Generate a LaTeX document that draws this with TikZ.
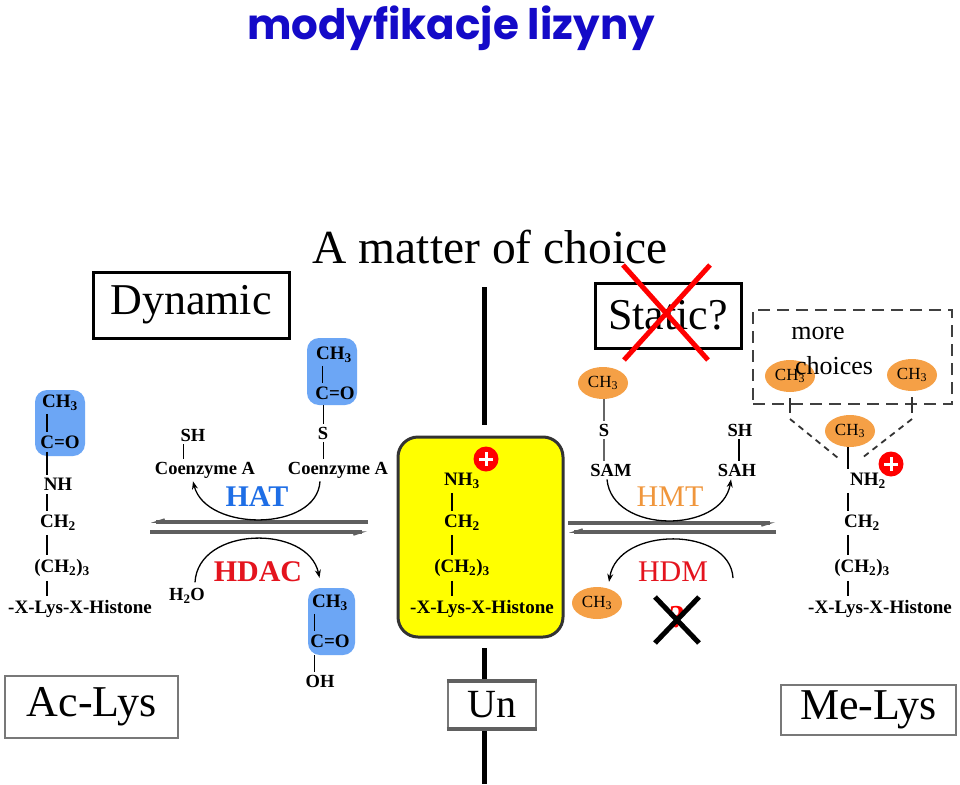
\documentclass[tikz,border=0pt]{standalone}
\usepackage{fontspec}
\setmainfont{Liberation Serif}
\newfontfamily\titlefont{Poppins}
\usetikzlibrary{arrows.meta,shapes.geometric,calc}
\definecolor{titleblue}{RGB}{20,10,200}
\definecolor{boxblue}{RGB}{108,166,245}
\definecolor{hatblue}{RGB}{30,110,230}
\definecolor{hdacred}{RGB}{228,20,30}
\definecolor{meorange}{RGB}{245,160,70}
\definecolor{hmtorange}{RGB}{240,150,60}
\definecolor{rxgray}{RGB}{95,95,95}
\definecolor{boxgray}{RGB}{120,120,120}
\definecolor{hiyellow}{RGB}{255,255,0}
\tikzset{
  lbl/.style={inner sep=0pt, font=\fontsize{19}{20}\selectfont\bfseries},
  sml/.style={inner sep=0pt, font=\fontsize{18.5}{20}\selectfont\bfseries},
  bigword/.style={inner sep=0pt, font=\fontsize{44}{46}\selectfont},
  enzb/.style={inner sep=0pt, font=\fontsize{30}{32}\selectfont\bfseries},
  enzr/.style={inner sep=0pt, font=\fontsize{30}{32}\selectfont},
  titlebox/.style={draw=black, line width=3pt, inner sep=0pt},
  graybox/.style={draw=boxgray, line width=1.5pt, inner sep=0pt, fill=white},
  bluebox/.style={fill=boxblue, rounded corners=12pt, inner sep=0pt},
  oval/.style={ellipse, fill=meorange, minimum width=50pt, minimum height=32pt, inner sep=0pt, font=\fontsize{17}{18}\selectfont},
  plus/.style={circle, fill=red, minimum size=25pt, inner sep=0pt},
  bond/.style={line width=2.6pt},
  thinbond/.style={line width=1pt},
  rxline/.style={draw=rxgray, line width=3.5pt},
  curvearrow/.style={line width=1.3pt, -{Stealth[length=8pt,width=6pt]}},
  axis/.style={line width=5pt},
  redx/.style={draw=red, line width=5pt},
  blackx/.style={draw=black, line width=5pt},
}
\begin{document}
\begin{tikzpicture}[x=1pt,y=-1pt]
\useasboundingbox (0,0) rectangle (960,784);
\fill[white] (0,0) rectangle (960,784);

% title
\node[inner sep=0pt, text=titleblue, font=\fontsize{42}{44}\selectfont\titlefont\bfseries] (title) at (451,28) {modyfikacje lizyny};
\node[inner sep=0pt, font=\fontsize{47.5}{49}\selectfont] (matter) at (490,247) {A matter of choice};

% axis lines
\coordinate (axtop1) at (484,287);
\coordinate (axtop2) at (484,425);
\draw[axis] (axtop1) -- (axtop2);

% category boxes
\node[titlebox, bigword, minimum width=196pt, minimum height=66pt] (dyn) at (191,305) {Dynamic};
\node[titlebox, bigword, minimum width=146pt, minimum height=65pt] (stat) at (668,315.5) {Static?};
\coordinate (sx1) at (623,265); \coordinate (sx2) at (708,360);
\coordinate (sx3) at (624,360); \coordinate (sx4) at (710,265);
\draw[redx] (sx1) -- (sx2);
\draw[redx] (sx3) -- (sx4);

% bottom boxes
\node[graybox, bigword, minimum width=173pt, minimum height=62pt] (aclys) at (91.5,707) {Ac-Lys};
\node[graybox, bigword, minimum width=175pt, minimum height=50pt] (melys) at (868.5,710) {Me-Lys};
\coordinate (axb1) at (484,648);
\coordinate (axb2) at (484,784);
\draw[axis] (axb1) -- (axb2);
\node[draw=boxgray, line width=2.5pt, fill=white, inner sep=0pt, minimum width=88pt, minimum height=46pt, font=\fontsize{40}{42}\selectfont] (un) at (492,705) {Un};
\draw[boxgray!80!black, line width=4pt] (un.north west) -- (un.north east);
\draw[boxgray!80!black, line width=4pt] (un.south west) -- (un.south east);

% ===== center yellow box =====
\node[draw=black!80, line width=3pt, fill=hiyellow, rounded corners=20pt, minimum width=165pt, minimum height=200pt] (ybox) at (480.5,537) {};
\coordinate (cbx) at (452,0);
\node[lbl] (cnh) at (462,481) {NH\textsubscript{3}};
\node[plus] (cplus) at (486,459) {};
\draw[white, line width=3pt] ([xshift=-7pt]cplus.center) -- ([xshift=7pt]cplus.center);
\draw[white, line width=3pt] ([yshift=-7pt]cplus.center) -- ([yshift=7pt]cplus.center);
\node[lbl] (cch2) at (462,523) {CH\textsubscript{2}};
\node[lbl] (cch23) at (462,568) {(CH\textsubscript{2})\textsubscript{3}};
\node[lbl] (chis) at (482,609) {-X-Lys-X-Histone};
\draw[bond] ([yshift=-4pt]cnh.south -| cbx) -- ([yshift=4pt]cch2.north -| cbx);
\draw[bond] ([yshift=-4pt]cch2.south -| cbx) -- ([yshift=4pt]cch23.north -| cbx);
\draw[bond] ([yshift=-4pt]cch23.south -| cbx) -- ([yshift=4pt]chis.north -| cbx);

% ===== left chain (Ac-Lys) =====
\node[bluebox, minimum width=50pt, minimum height=66pt] (lbox) at (60,423) {};
\coordinate (lbx) at (47,0);
\node[lbl] (lch3) at (60,403) {CH\textsubscript{3}};
\node[lbl] (lco) at (60,442) {C=O};
\node[lbl] (lnh) at (58,484) {NH};
\node[lbl] (lch2) at (58,523) {CH\textsubscript{2}};
\node[lbl] (lch23) at (62,568) {(CH\textsubscript{2})\textsubscript{3}};
\node[lbl] (lhis) at (80,609) {-X-Lys-X-Histone};
\draw[bond] ([yshift=-3pt]lch3.south -| lbx) -- ([yshift=3pt]lco.north -| lbx);
\draw[bond] ([yshift=-3pt]lco.south -| lbx) -- ([yshift=3pt]lnh.north -| lbx);
\draw[bond] ([yshift=-4pt]lnh.south -| lbx) -- ([yshift=4pt]lch2.north -| lbx);
\draw[bond] ([yshift=-4pt]lch2.south -| lbx) -- ([yshift=4pt]lch23.north -| lbx);
\draw[bond] ([yshift=-4pt]lch23.south -| lbx) -- ([yshift=4pt]lhis.north -| lbx);

% ===== right chain (Me-Lys) =====
\node[draw=black!75, dashed, dash pattern=on 12pt off 7pt, line width=2.5pt, minimum width=199pt, minimum height=94pt, inner sep=0pt] (more) at (852.5,357) {};
\node[oval] (mch3a) at (790,376) {CH\textsubscript{3}};
\node[oval] (mch3b) at (912,375) {CH\textsubscript{3}};
\node[inner sep=0pt, font=\fontsize{26}{28}\selectfont] (moretxt) at (818,333) {more};
\node[inner sep=0pt, font=\fontsize{26}{28}\selectfont] (choicetxt) at (834,366) {choices};
\node[oval] (mch3) at (850,431) {CH\textsubscript{3}};
\coordinate (rbx) at (848,0);
\node[lbl] (rnh) at (868,481) {NH\textsubscript{2}};
\node[plus] (rplus) at (891,464) {};
\draw[white, line width=3pt] ([xshift=-7pt]rplus.center) -- ([xshift=7pt]rplus.center);
\draw[white, line width=3pt] ([yshift=-7pt]rplus.center) -- ([yshift=7pt]rplus.center);
\node[lbl] (rch2) at (862,523) {CH\textsubscript{2}};
\node[lbl] (rch23) at (862,568) {(CH\textsubscript{2})\textsubscript{3}};
\node[lbl] (rhis) at (880,609) {-X-Lys-X-Histone};
\draw[bond] (mch3.south -| rbx) -- ([yshift=4pt]rnh.north -| rbx);
\draw[bond] ([yshift=-4pt]rnh.south -| rbx) -- ([yshift=4pt]rch2.north -| rbx);
\draw[bond] ([yshift=-4pt]rch2.south -| rbx) -- ([yshift=4pt]rch23.north -| rbx);
\draw[bond] ([yshift=-4pt]rch23.south -| rbx) -- ([yshift=4pt]rhis.north -| rbx);
\coordinate (tka) at (790,398); \coordinate (tkb) at (912,397);
\coordinate (dla) at (790,413); \coordinate (dlb) at (838,458);
\coordinate (dra) at (912,413); \coordinate (drb) at (862,458);
\draw[line width=1.5pt, black!80] (tka) -- (dla);
\draw[line width=1.5pt, black!80] (tkb) -- (dra);
\draw[line width=1.8pt, black!80, dash pattern=on 6pt off 5pt] ([yshift=-6pt]dla) -- (dlb);
\draw[line width=1.8pt, black!80, dash pattern=on 6pt off 5pt] ([yshift=-6pt]dra) -- (drb);

% ===== left reaction (acetylation) =====
\coordinate (ltA) at (368,522); \coordinate (ltB) at (151,522);
\coordinate (lbA) at (150,532); \coordinate (lbB) at (367,532);
\draw[rxline, -{Straight Barb[harpoon,swap,length=9pt,width=6pt,line width=1.5pt]}] (ltA) -- (ltB);
\draw[rxline, -{Straight Barb[harpoon,swap,length=9pt,width=6pt,line width=1.5pt]}] (lbA) -- (lbB);

\node[bluebox, minimum width=50pt, minimum height=67pt] (tbox) at (332,371.5) {};
\node[lbl] (tch3) at (334,355) {CH\textsubscript{3}};
\node[lbl] (tco) at (335,393) {C=O};
\draw[thinbond] ([yshift=-3pt]tch3.south -| 322,0) -- ([yshift=3pt]tco.north -| 322,0);
\node[sml] (ts) at (323,433) {S};
\node[sml] (tcoa) at (338,470) {Coenzyme A};
\draw[thinbond] (tbox.south -| ts.center) -- ([yshift=3pt]ts.north);
\draw[thinbond] ([yshift=-3pt]ts.south) -- ([yshift=3pt]tcoa.north -| ts.center);
\node[sml] (lsh) at (193,435) {SH};
\node[sml] (lcoa) at (205,470) {Coenzyme A};
\draw[thinbond] ([yshift=-3pt]lsh.south -| 183,0) -- ([yshift=3pt]lcoa.north -| 183,0);
\node[enzb, text=hatblue] (hat) at (257,497) {HAT};
\draw[curvearrow] ([xshift=-18pt,yshift=-3pt]tcoa.south) .. controls (317,532) and (206,532) .. ([xshift=-12pt,yshift=-3pt]lcoa.south);
\node[sml] (h2o) at (187,596) {H\textsubscript{2}O};
\node[enzb, text=hdacred] (hdac) at (258,572) {HDAC};
\node[bluebox, minimum width=47pt, minimum height=67pt] (bbox) at (331.5,621.5) {};
\node[lbl] (bch3) at (330,603) {CH\textsubscript{3}};
\node[lbl] (bco) at (330,641) {C=O};
\draw[thinbond] ([yshift=-3pt]bch3.south -| 314,0) -- ([yshift=3pt]bco.north -| 314,0);
\node[sml] (boh) at (320,681) {OH};
\draw[thinbond] (bbox.south -| 314,0) -- ([yshift=3pt]boh.north -| 314,0);
\draw[curvearrow] ([xshift=8pt,yshift=6pt]h2o.north) .. controls (198,526) and (308,524) .. ([xshift=-12pt,yshift=10pt]bbox.north);

% ===== right reaction (methylation) =====
\coordinate (rtA) at (568,523); \coordinate (rtB) at (775,523);
\coordinate (rbA) at (776,532); \coordinate (rbB) at (569,532);
\draw[rxline, -{Straight Barb[harpoon,swap,length=9pt,width=6pt,line width=1.5pt]}] (rtA) -- (rtB);
\draw[rxline, -{Straight Barb[harpoon,swap,length=9pt,width=6pt,line width=1.5pt]}] (rbA) -- (rbB);

\node[oval] (sch3) at (603,383) {CH\textsubscript{3}};
\node[sml] (ss) at (604,430) {S};
\node[sml] (sam) at (611,470) {SAM};
\draw[line width=2pt, black!60] (sch3.south -| ss.center) -- ([yshift=3pt]ss.north);
\draw[line width=2pt, black!60] ([yshift=-3pt]ss.south) -- ([yshift=3pt]sam.north -| ss.center);
\node[sml] (ssh) at (740,430) {SH};
\node[sml] (sah) at (737,470) {SAH};
\draw[line width=2pt] ([yshift=-3pt]ssh.south -| 739,0) -- ([yshift=3pt]sah.north -| 739,0);
\node[enzr, text=hmtorange] (hmt) at (670,497) {HMT};
\draw[curvearrow] ([xshift=-4pt,yshift=-3pt]sam.south) .. controls (612,534) and (722,534) .. ([xshift=-6pt,yshift=-3pt]sah.south);
\node[enzr, text=hdacred] (hdm) at (673,572) {HDM};
\node[oval] (dch3) at (597,603) {CH\textsubscript{3}};
\coordinate (hdmstart) at (733,578);
\draw[curvearrow] (hdmstart) .. controls (730,526) and (618,526) .. ([xshift=12pt,yshift=5pt]dch3.north);
\node[inner sep=0pt, text=red, font=\fontsize{32}{34}\selectfont\bfseries] (qm) at (677,617) {?};
\coordinate (qx1) at (655,597); \coordinate (qx2) at (699,643);
\coordinate (qx3) at (699,597); \coordinate (qx4) at (655,643);
\draw[blackx] (qx1) -- (qx2);
\draw[blackx] (qx3) -- (qx4);
\end{tikzpicture}
\end{document}
